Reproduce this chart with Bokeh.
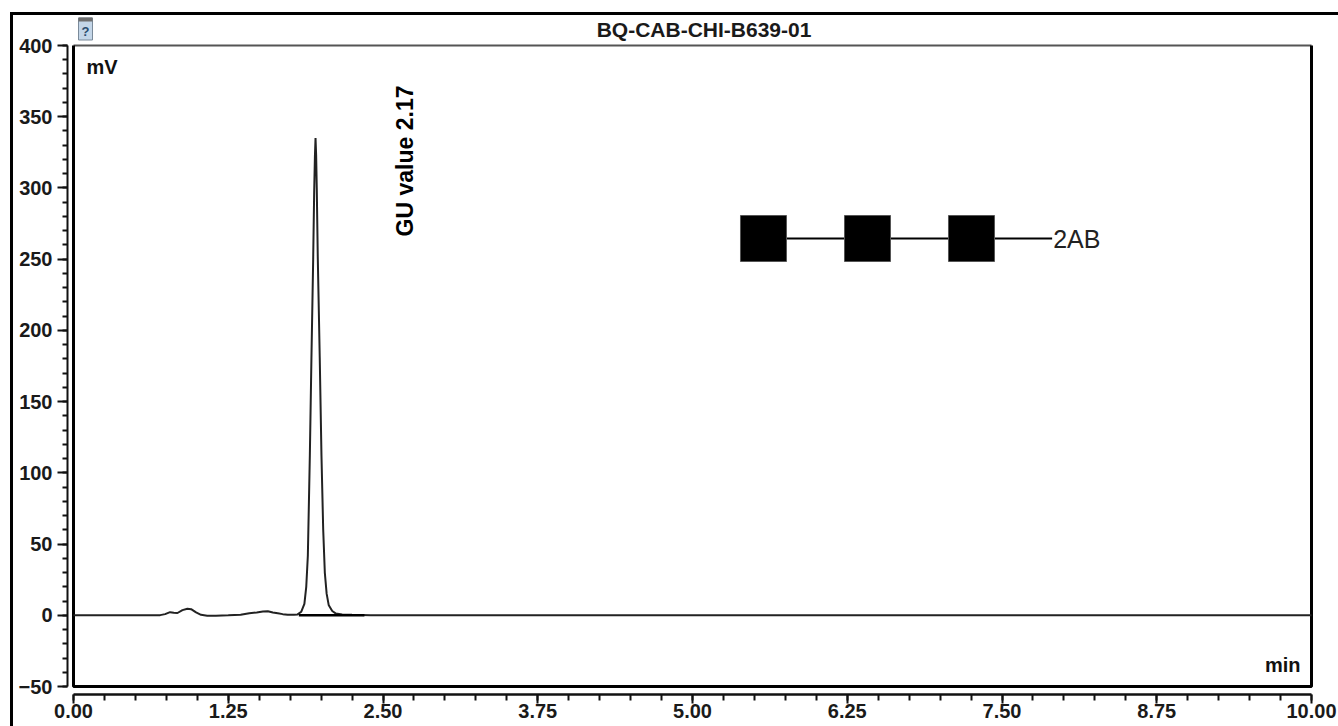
import math
from bokeh.plotting import figure
from bokeh.models import (Range1d, SingleIntervalTicker, PrintfTickFormatter,
                          InlineStyleSheet)
from bokeh.core.properties import value
from bokeh.embed import file_html
from bokeh.resources import INLINE

# ---------------- data ----------------
title_text = "BQ-CAB-CHI-B639-01"
time_min = [0.00, 0.50, 0.70, 0.74, 0.78, 0.81, 0.84, 0.88, 0.92, 0.95, 0.99,
            1.03, 1.08, 1.15, 1.25, 1.35, 1.42, 1.48, 1.53, 1.57, 1.61, 1.65,
            1.69, 1.73, 1.78, 1.81, 1.84, 1.865, 1.88, 1.893, 1.909, 1.922,
            1.936, 1.944, 1.950, 1.955, 1.960, 1.965, 1.973, 1.989, 2.003,
            2.017, 2.030, 2.045, 2.062, 2.090, 2.120, 2.170, 2.250, 2.400,
            2.600, 3.50, 5.00, 7.50, 10.00]
signal_mv = [0.0, 0.0, 0.1, 0.8, 2.2, 1.8, 1.6, 3.6, 4.6, 4.3, 2.0,
             0.3, -0.3, -0.3, 0.0, 0.4, 1.5, 2.0, 2.6, 2.8, 2.0, 1.4,
             0.8, 0.3, 0.4, 0.6, 2.5, 8.0, 20.0, 42.0, 112.0, 181.0,
             250.0, 297.0, 322.0, 335.0, 323.0, 300.0, 252.0, 181.0, 112.0,
             60.0, 30.0, 15.0, 7.0, 3.0, 1.2, 0.6, 0.3, 0.1,
             0.0, 0.0, 0.0, 0.0, 0.0]
baseline_t = [1.82, 2.35]
baseline_v = [0.0, 0.0]
gu_label = "GU value 2.17"
gu_pos = (2.674, 266.0)
glycan_x = [5.5735, 6.4136, 7.2536]
glycan_y = [264.5, 264.5, 264.5]
glycan_link_x = [5.5735, 7.905]
glycan_tag = "2AB"
x_major = 1.25
y_major = 50

# ---------------- layout constants ----------------
W, H = 1338, 726
X0, X1 = 0.0, 10.0
Y0, Y1 = -50.0, 400.0
px_x = 123.8          # px per minute
px_y = 641.0 / 450.0  # px per mV
TOP_GAP = 33          # px between frame top and the 400 mV line

outer_frame_css = InlineStyleSheet(css="""
:host {
  background:
    linear-gradient(#000, #000) 10px 12px / calc(100% - 10px) 3px no-repeat,
    linear-gradient(#000, #000) 10px 12px / 3px calc(100% - 12px) no-repeat,
    #ffffff;
}
""")

p = figure(width=W, height=H,
           x_range=Range1d(X0 - 6 / px_x, X1 + 2 / px_x),
           y_range=Range1d(Y0 - 8 / px_y, Y1 + TOP_GAP / px_y),
           output_backend="svg", toolbar_location=None,
           min_border_left=67, min_border_right=25,
           min_border_top=12, min_border_bottom=32,
           stylesheets=[outer_frame_css])
p.outline_line_color = None
p.background_fill_color = None
p.border_fill_color = None
p.xgrid.visible = False
p.ygrid.visible = False

FONT = "Liberation Sans"

# y axis
p.yaxis.ticker = SingleIntervalTicker(interval=y_major, num_minor_ticks=5)
p.yaxis.bounds = (Y0, Y1)
p.yaxis.axis_line_width = 2
p.yaxis.axis_line_color = "#111111"
p.yaxis.major_tick_in = 0
p.yaxis.major_tick_out = 10
p.yaxis.minor_tick_in = 0
p.yaxis.minor_tick_out = 5
p.yaxis.major_tick_line_width = 2
p.yaxis.minor_tick_line_width = 2
p.yaxis.major_tick_line_color = "#111111"
p.yaxis.minor_tick_line_color = "#111111"
p.yaxis.major_label_standoff = 5
p.yaxis.major_label_text_font = FONT
p.yaxis.major_label_text_font_style = "bold"
p.yaxis.major_label_text_font_size = "20px"
p.yaxis.major_label_text_color = "#1a1a1a"

# x axis
p.xaxis.ticker = SingleIntervalTicker(interval=x_major, num_minor_ticks=5)
p.xaxis.formatter = PrintfTickFormatter(format="%.2f")
p.xaxis.bounds = (X0, X1)
p.xaxis.axis_line_width = 2.5
p.xaxis.axis_line_color = "#111111"
p.xaxis.major_tick_in = 0
p.xaxis.major_tick_out = 9
p.xaxis.minor_tick_in = 0
p.xaxis.minor_tick_out = 6
p.xaxis.major_tick_line_width = 2
p.xaxis.minor_tick_line_width = 2
p.xaxis.major_tick_line_color = "#111111"
p.xaxis.minor_tick_line_color = "#111111"
p.xaxis.major_label_standoff = 0
p.xaxis.major_label_text_font = FONT
p.xaxis.major_label_text_font_style = "bold"
p.xaxis.major_label_text_font_size = "20px"
p.xaxis.major_label_text_color = "#1a1a1a"

# inner plot box
p.line([X0, X1], [Y1, Y1], line_color="#555555", line_width=2)
p.multi_line([[X0, X0, X1, X1]], [[Y1, Y0, Y0, Y1]], line_color="#000000",
             line_width=3)

# title row (above the 400 mV line)
title_y = Y1 + 16.5 / px_y
p.text(x=[5.093], y=[title_y], text=[title_text],
       text_align="center", text_baseline="middle",
       text_font=value(FONT), text_font_style="bold",
       text_font_size="21px", text_color="#1a1a1a")

# small help icon
icon_x = X0 + 12 / px_x
p.rect(x=[icon_x], y=[title_y], width=14, height=22, width_units="screen",
       height_units="screen", fill_color="#c4d6e8", line_color="#7a8a9a",
       line_width=1)
p.rect(x=[icon_x], y=[Y1 + 26 / px_y], width=14, height=4,
       width_units="screen", height_units="screen", fill_color="#6e6e6e",
       line_color=None)
p.text(x=[icon_x], y=[Y1 + 14.5 / px_y], text=["?"],
       text_align="center", text_baseline="middle",
       text_font=value(FONT), text_font_style="bold",
       text_font_size="13px", text_color="#2b4c6f")

# trace and integration baseline
p.line(time_min, signal_mv, line_color="#222222", line_width=2)
p.line(baseline_t, baseline_v, line_color="#000000", line_width=2.5)

# unit labels
p.text(x=[X0 + 13 / px_x], y=[Y1 - 21 / px_y], text=["mV"],
       text_align="left", text_baseline="middle",
       text_font=value(FONT), text_font_style="bold",
       text_font_size="20px", text_color="#111111")
p.text(x=[X1 - 11 / px_x], y=[Y0 + 22 / px_y], text=["min"],
       text_align="right", text_baseline="middle",
       text_font=value(FONT), text_font_style="bold",
       text_font_size="20px", text_color="#111111")

# GU annotation
p.text(x=[gu_pos[0]], y=[gu_pos[1]], text=[gu_label], angle=math.pi / 2,
       text_align="left", text_baseline="middle",
       text_font=value(FONT), text_font_style="bold",
       text_font_size="23px", text_color="#000000")

# glycan cartoon
p.line(glycan_link_x, [glycan_y[0], glycan_y[0]], line_color="#000000",
       line_width=2)
p.rect(x=glycan_x, y=glycan_y, width=46, height=46, width_units="screen",
       height_units="screen", fill_color="#000000", line_color="#555555",
       line_width=1)
p.text(x=[glycan_link_x[1] + 1 / px_x], y=[glycan_y[0]], text=[glycan_tag],
       text_align="left", text_baseline="middle",
       text_font=value(FONT), text_font_size="25px", text_color="#222222")

open("out.html", "w").write(file_html(p, INLINE))
